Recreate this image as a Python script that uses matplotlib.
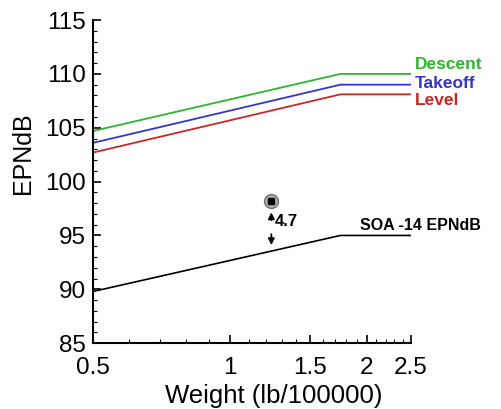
import numpy as np
import matplotlib.pyplot as plt
from matplotlib.ticker import FixedLocator, NullFormatter

plt.rcParams['font.family'] = ['Liberation Sans', 'DejaVu Sans']

# data
weight = [0.5, 1.75, 2.5]
descent = [104.7, 110.0, 110.0]
takeoff = [103.6, 109.0, 109.0]
level = [102.7, 108.1, 108.1]
soa = [89.8, 95.0, 95.0]

point_x = 1.233
point_y = 98.2
margin = 4.7

xticks = [0.5, 1, 1.5, 2, 2.5]
xtick_labels = ['0.5', '1', '1.5', '2', '2.5']

fig = plt.figure(figsize=(5.01, 4.09), dpi=100)
ax = fig.add_axes([0.186, 0.161, 0.634, 0.790])

ax.plot(weight, descent, color='#2fb52f', lw=1.3)
ax.plot(weight, takeoff, color='#3535c8', lw=1.3)
ax.plot(weight, level, color='#c62828', lw=1.3)
ax.plot(weight, soa, color='black', lw=1.2)

ax.set_xscale('log')
ax.set_xlim(0.5, 2.5)
ax.set_ylim(85, 115)

# labels at line ends
ax.text(2.55, 110.9, 'Descent', color='#2fb52f', fontsize=12.5, fontweight='bold', va='center', clip_on=False)
ax.text(2.55, 109.1, 'Takeoff', color='#3535c8', fontsize=12.5, fontweight='bold', va='center', clip_on=False)
ax.text(2.55, 107.5, 'Level', color='#c62828', fontsize=12.5, fontweight='bold', va='center', clip_on=False)
ax.text(1.93, 95.9, 'SOA -14 EPNdB', color='black', fontsize=11.5, fontweight='bold', va='center', clip_on=False)

# design point and margin arrows
soa_at_point = np.interp(np.log(point_x), np.log(weight), soa)
ax.plot(point_x, point_y, 'o', ms=10, mfc='#b0b0b0', mec='#707070', zorder=3)
ax.plot(point_x, point_y, 's', ms=5, color='black', zorder=4)
mid = (point_y + soa_at_point) / 2
ax.annotate('', xy=(point_x, point_y - 0.8), xytext=(point_x, mid + 0.3),
            arrowprops=dict(arrowstyle='-|>', color='black', lw=1.3, mutation_scale=9))
ax.annotate('', xy=(point_x, soa_at_point + 0.3), xytext=(point_x, mid - 0.5),
            arrowprops=dict(arrowstyle='-|>', color='black', lw=1.3, mutation_scale=9))
ax.text(point_x * 1.015, mid + 0.4, str(margin), fontsize=12, fontweight='bold', va='center')

ax.xaxis.set_major_locator(FixedLocator(xticks))
ax.set_xticklabels(xtick_labels)
ax.xaxis.set_minor_locator(FixedLocator(np.arange(0.6, 2.45, 0.1)))
ax.xaxis.set_minor_formatter(NullFormatter())
ax.set_yticks(np.arange(85, 116, 5))
ax.set_yticks(np.arange(85, 116, 1), minor=True)

ax.tick_params(which='major', direction='in', length=6, width=1.2, labelsize=17.5)
ax.tick_params(which='minor', direction='in', length=3, width=0.8)
ax.tick_params(axis='x', which='major', pad=10)
ax.tick_params(axis='y', which='major', pad=5)

for side in ['top', 'right']:
    ax.spines[side].set_visible(False)
for side in ['left', 'bottom']:
    ax.spines[side].set_linewidth(1.5)

ax.set_xlabel('Weight (lb/100000)', fontsize=18.5)
ax.xaxis.set_label_coords(0.57, -0.125)
ax.set_ylabel('EPNdB', fontsize=18)
ax.yaxis.set_label_coords(-0.182, 0.588)

fig.savefig('out.png', dpi=100)
